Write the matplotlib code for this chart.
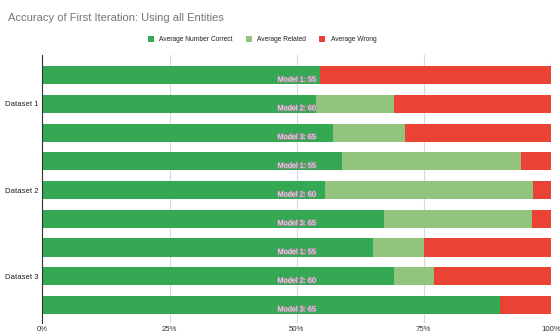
import matplotlib
matplotlib.use("Agg")
import matplotlib.pyplot as plt
import matplotlib.patheffects as pe
import numpy as np

plt.rcParams['font.family'] = ['Liberation Sans', 'DejaVu Sans']

datasets = ["Dataset 1", "Dataset 2", "Dataset 3"]
bar_labels = ["Model 1: 55", "Model 2: 60", "Model 3: 65",
              "Model 1: 55", "Model 2: 60", "Model 3: 65",
              "Model 1: 55", "Model 2: 60", "Model 3: 65"]
correct = [54.5, 53.9, 57.1, 58.9, 55.5, 67.1, 65.0, 69.2, 90.0]
related = [0.0, 15.3, 14.3, 35.2, 41.0, 29.2, 10.0, 7.8, 0.0]
wrong = [45.5, 30.8, 28.6, 5.9, 3.5, 3.7, 25.0, 23.0, 10.0]
series_names = ["Average Number Correct", "Average Related", "Average Wrong"]
colors = ["#34A853", "#93C47D", "#EA4335"]
x_ticks = [0, 25, 50, 75, 100]
x_ticklabels = ["0%", "25%", "50%", "75%", "100%"]

fig = plt.figure(figsize=(5.6, 3.35), dpi=100)
ax = fig.add_axes([0.0757, 0.0358, 0.908, 0.800])

y = np.arange(len(correct))
c = np.array(correct); r = np.array(related); w = np.array(wrong)
tot = c + r + w
c, r, w = c / tot * 100, r / tot * 100, w / tot * 100
h = 0.63
b1 = ax.barh(y, c, height=h, color=colors[0], label=series_names[0], zorder=2)
b2 = ax.barh(y, r, left=c, height=h, color=colors[1], label=series_names[1], zorder=2)
b3 = ax.barh(y, w, left=c + r, height=h, color=colors[2], label=series_names[2], zorder=2)

for i, lab in enumerate(bar_labels):
    ax.text(50, y[i] + h / 2 - 0.02, lab, ha="center", va="bottom", fontsize=5.3,
            color="#f2f2f2", zorder=3,
            path_effects=[pe.withStroke(linewidth=1.4, foreground="#8c8c8c")])

ax.set_xlim(0, 100)
ax.set_ylim(8.63, -0.7)
ax.set_xticks(x_ticks)
ax.set_xticklabels(x_ticklabels, fontsize=5.6, color="#333333")
ax.set_yticks([1, 4, 7])
ax.set_yticklabels(datasets, fontsize=5.6, color="#222222")
ax.tick_params(length=0, pad=3)
ax.tick_params(axis="x", pad=2)
ax.grid(axis="x", color="#d9d9d9", linewidth=0.8, zorder=0)
for s in ["top", "right", "bottom"]:
    ax.spines[s].set_visible(False)
ax.spines["left"].set_color("#333333")
ax.spines["left"].set_linewidth(0.8)
ax.spines["left"].set_zorder(4)

fig.text(0.014, 0.946, "Accuracy of First Iteration: Using all Entities",
         fontsize=8, color="#757575", ha="left", va="center")
fig.legend(handles=[b1, b2, b3], labels=series_names, loc="center",
           bbox_to_anchor=(0.468, 0.881), ncol=3, frameon=False, fontsize=4.8,
           handlelength=0.9, handleheight=0.9, handletextpad=0.8,
           columnspacing=2.0, labelcolor="#222222")

fig.savefig("out.png", dpi=100)
